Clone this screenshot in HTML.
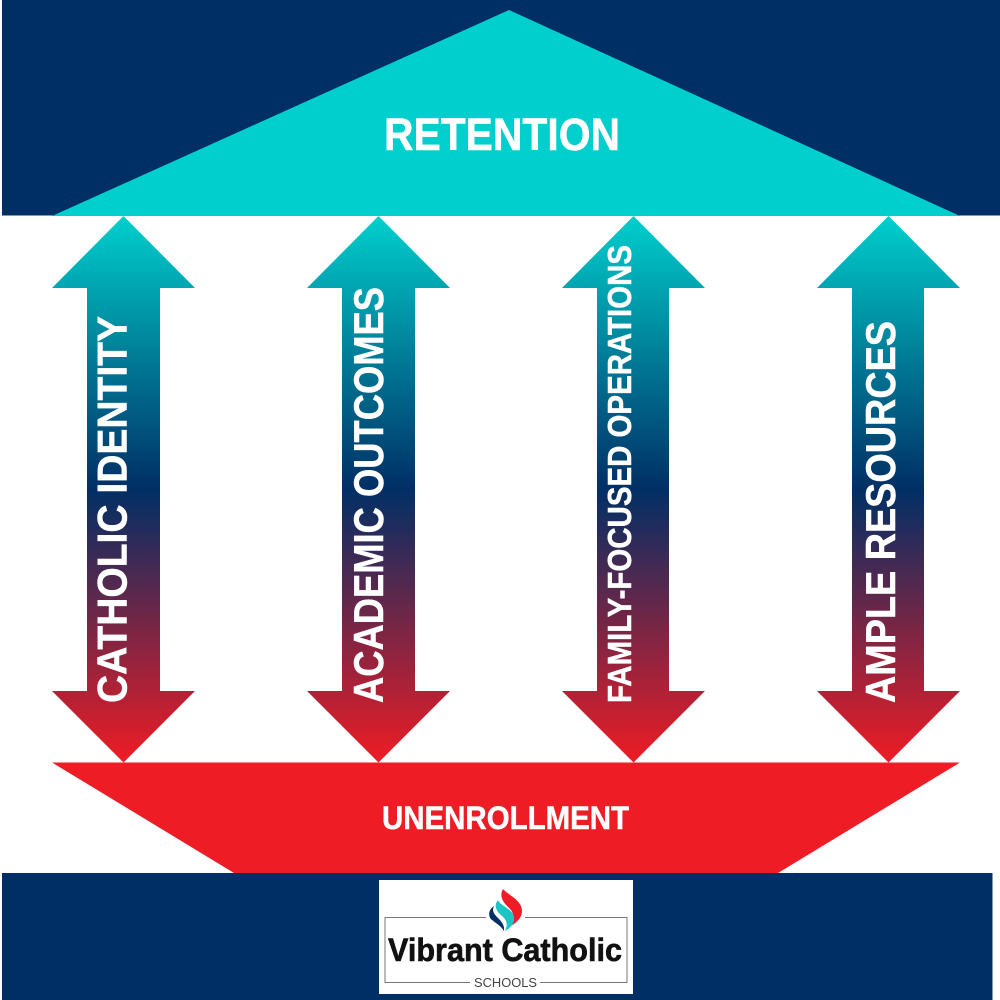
<!DOCTYPE html>
<html>
<head>
<meta charset="utf-8">
<style>
html,body{margin:0;padding:0;background:#fff;}
svg{display:block;}
text{font-family:"Liberation Sans",Arial,sans-serif;font-weight:700;fill:#fff;stroke:#fff;stroke-width:.5px;}
</style>
</head>
<body>
<svg width="1000" height="1000" viewBox="0 0 1000 1000" xmlns="http://www.w3.org/2000/svg">
<defs>
<linearGradient id="g" gradientUnits="userSpaceOnUse" x1="0" y1="216" x2="0" y2="762">
<stop offset="0" stop-color="#00cfcd"/>
<stop offset="0.5" stop-color="#002f65"/>
<stop offset="1" stop-color="#ee1c25"/>
</linearGradient>
</defs>
<rect width="1000" height="1000" fill="#fff"/>
<rect x="2" y="0" width="998" height="215.5" fill="#002f65"/>
<rect x="2" y="873" width="990.5" height="127" fill="#002f65"/>
<polygon points="509,10 960,216 52,216" fill="#00cfcd"/>
<polygon points="52,762.5 960,762.5 778,873 234,873" fill="#ee1c25"/>

<polygon fill="url(#g)" points="123.5,216 195,288 160,288 160,691 195,691 123.5,762.5 52,691 87,691 87,288 52,288"/>
<polygon fill="url(#g)" points="378.5,216 450,288 415,288 415,691 450,691 378.5,762.5 307,691 342,691 342,288 307,288"/>
<polygon fill="url(#g)" points="633.5,216 705,288 669,288 669,691 705,691 633.5,762.5 562,691 597,691 597,288 562,288"/>
<polygon fill="url(#g)" points="888.5,216 960,288 924,288 924,691 960,691 888.5,762.5 817,691 852,691 852,288 817,288"/>

<text x="384" y="150" font-size="45" textLength="236" lengthAdjust="spacingAndGlyphs">RETENTION</text>
<text x="382" y="829" font-size="32" textLength="247" lengthAdjust="spacingAndGlyphs">UNENROLLMENT</text>

<text transform="translate(126.5,703) rotate(-90)" font-size="42" textLength="387" lengthAdjust="spacingAndGlyphs">CATHOLIC IDENTITY</text>
<text transform="translate(383,703) rotate(-90)" font-size="42" textLength="416" lengthAdjust="spacingAndGlyphs">ACADEMIC OUTCOMES</text>
<text transform="translate(631,703) rotate(-90)" font-size="33" textLength="458" lengthAdjust="spacingAndGlyphs">FAMILY-FOCUSED OPERATIONS</text>
<text transform="translate(895,703) rotate(-90)" font-size="42" textLength="382" lengthAdjust="spacingAndGlyphs">AMPLE RESOURCES</text>

<rect x="379" y="880" width="254" height="114" fill="#fff"/>
<path d="M486,917.5H385V982.5H470M540,982.5H627V917.5H525" fill="none" stroke="#777" stroke-width="1"/>
<path d="M503,889C508,895 522,900 522,911C522,918 516,923 511,926C515,918 514,912 508,907C503,902 499,896 503,889Z" fill="#ee1c25"/>
<path d="M498,900C500,906 512,908 514,917C515,924 510,928 505,931C508,925 507,920 502,916C497,912 493,906 498,900Z" fill="#1cc5c4"/>
<path d="M494,906C488,910 488,917 492,920C497,924 501,926 504,931C505,925 501,921 497,917C493,913 492,910 494,906Z" fill="#002f65"/>
<text x="388" y="961" font-size="32" textLength="234" lengthAdjust="spacingAndGlyphs" style="fill:#111;stroke:#111;stroke-width:.6px">Vibrant Catholic</text>
<text x="474" y="987" font-size="12.5" textLength="63" lengthAdjust="spacingAndGlyphs" style="fill:#444;stroke:none;font-weight:400">SCHOOLS</text>
</svg>
</body>
</html>
